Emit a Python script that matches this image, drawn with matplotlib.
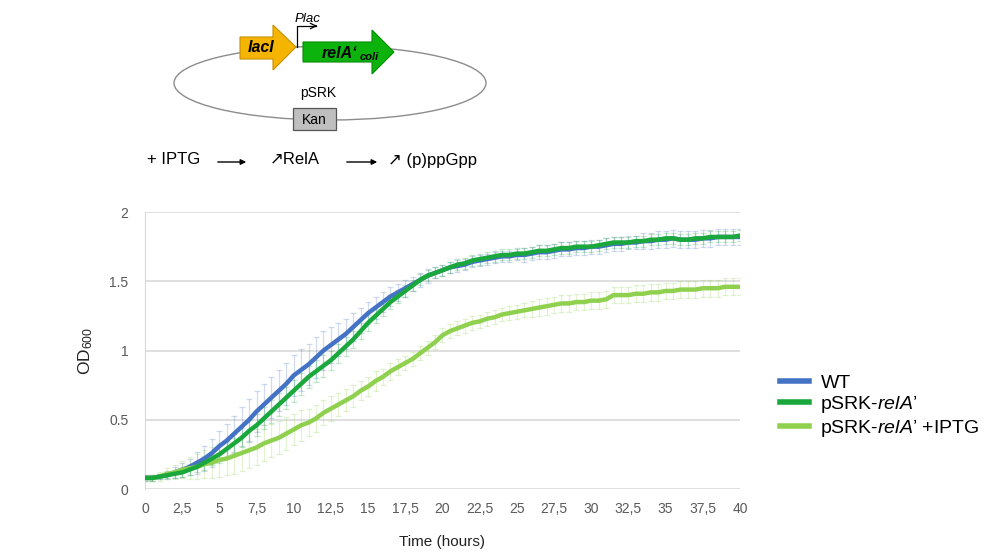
import matplotlib
matplotlib.use('Agg')
import matplotlib.pyplot as plt
import numpy as np
from matplotlib.patches import Polygon, Ellipse, Rectangle
from matplotlib.lines import Line2D

plt.rcParams['font.family'] = ['Liberation Sans', 'DejaVu Sans']
plt.rcParams['mathtext.fontset'] = 'custom'
plt.rcParams['mathtext.rm'] = 'Liberation Sans'
plt.rcParams['mathtext.it'] = 'Liberation Sans:italic'
plt.rcParams['mathtext.bf'] = 'Liberation Sans:bold'

# growth curves, one reading every 0.5 h from 0 to 40 h
time_h = np.arange(0, 40.5, 0.5)

od_wt = [0.08, 0.08, 0.09, 0.10, 0.12, 0.14, 0.16, 0.19, 0.22, 0.26,
         0.31, 0.35, 0.40, 0.45, 0.50, 0.56, 0.61, 0.66, 0.71, 0.76,
         0.82, 0.86, 0.90, 0.95, 1.00, 1.04, 1.08, 1.12, 1.17, 1.22,
         1.27, 1.31, 1.35, 1.39, 1.42, 1.45, 1.48, 1.51, 1.54, 1.56,
         1.58, 1.60, 1.61, 1.62, 1.64, 1.65, 1.66, 1.67, 1.68, 1.68,
         1.69, 1.69, 1.70, 1.71, 1.71, 1.72, 1.73, 1.73, 1.74, 1.74,
         1.75, 1.75, 1.76, 1.77, 1.77, 1.78, 1.78, 1.79, 1.79, 1.80,
         1.80, 1.81, 1.80, 1.80, 1.80, 1.81, 1.81, 1.82, 1.82, 1.82,
         1.82]
err_wt = [0.02, 0.02, 0.02, 0.03, 0.04, 0.05, 0.06, 0.08, 0.09, 0.10,
          0.11, 0.12, 0.13, 0.14, 0.15, 0.15, 0.15, 0.15, 0.15, 0.15,
          0.15, 0.15, 0.15, 0.15, 0.14, 0.13, 0.12, 0.11, 0.10, 0.09,
          0.08, 0.08, 0.07, 0.07, 0.06, 0.06, 0.05, 0.05, 0.05, 0.04,
          0.04, 0.04, 0.04, 0.04, 0.04, 0.04, 0.04, 0.04, 0.04, 0.04,
          0.04, 0.05, 0.05, 0.05, 0.05, 0.05, 0.05, 0.05, 0.05, 0.05,
          0.05, 0.05, 0.05, 0.05, 0.05, 0.05, 0.05, 0.06, 0.06, 0.06,
          0.06, 0.06, 0.06, 0.06, 0.06, 0.06, 0.06, 0.06, 0.06, 0.06,
          0.06]

od_rela = [0.08, 0.08, 0.09, 0.10, 0.11, 0.12, 0.14, 0.16, 0.19, 0.22,
           0.25, 0.29, 0.33, 0.37, 0.42, 0.46, 0.51, 0.56, 0.61, 0.66,
           0.71, 0.76, 0.81, 0.85, 0.89, 0.93, 0.98, 1.03, 1.08, 1.14,
           1.20, 1.25, 1.30, 1.35, 1.39, 1.43, 1.47, 1.51, 1.54, 1.56,
           1.58, 1.60, 1.62, 1.63, 1.65, 1.66, 1.67, 1.68, 1.69, 1.69,
           1.70, 1.70, 1.71, 1.72, 1.72, 1.73, 1.74, 1.74, 1.75, 1.75,
           1.75, 1.76, 1.77, 1.78, 1.78, 1.78, 1.79, 1.79, 1.80, 1.80,
           1.81, 1.81, 1.80, 1.80, 1.81, 1.81, 1.82, 1.82, 1.82, 1.82,
           1.83]
err_rela = [0.02, 0.02, 0.02, 0.02, 0.03, 0.03, 0.04, 0.04, 0.05, 0.05,
            0.06, 0.06, 0.07, 0.07, 0.08, 0.08, 0.08, 0.08, 0.08, 0.08,
            0.08, 0.08, 0.08, 0.08, 0.08, 0.07, 0.07, 0.07, 0.06, 0.06,
            0.06, 0.05, 0.05, 0.05, 0.05, 0.04, 0.04, 0.04, 0.04, 0.04,
            0.04, 0.04, 0.04, 0.04, 0.04, 0.04, 0.04, 0.04, 0.04, 0.04,
            0.04, 0.04, 0.04, 0.04, 0.04, 0.04, 0.04, 0.04, 0.04, 0.04,
            0.04, 0.04, 0.04, 0.04, 0.04, 0.04, 0.04, 0.04, 0.04, 0.04,
            0.04, 0.04, 0.04, 0.04, 0.04, 0.04, 0.04, 0.04, 0.04, 0.04,
            0.04]

od_iptg = [0.08, 0.08, 0.09, 0.11, 0.12, 0.14, 0.15, 0.16, 0.18, 0.19,
           0.21, 0.22, 0.24, 0.26, 0.28, 0.30, 0.33, 0.35, 0.37, 0.40,
           0.43, 0.46, 0.48, 0.51, 0.55, 0.58, 0.61, 0.64, 0.67, 0.71,
           0.74, 0.78, 0.81, 0.85, 0.88, 0.91, 0.94, 0.98, 1.02, 1.06,
           1.11, 1.14, 1.16, 1.18, 1.20, 1.21, 1.23, 1.24, 1.26, 1.27,
           1.28, 1.29, 1.30, 1.31, 1.32, 1.33, 1.34, 1.34, 1.35, 1.35,
           1.36, 1.36, 1.37, 1.40, 1.40, 1.40, 1.41, 1.41, 1.42, 1.42,
           1.43, 1.43, 1.44, 1.44, 1.44, 1.45, 1.45, 1.45, 1.46, 1.46,
           1.46]
err_iptg = [0.02, 0.02, 0.03, 0.04, 0.05, 0.06, 0.08, 0.09, 0.10, 0.11,
            0.12, 0.12, 0.13, 0.13, 0.13, 0.13, 0.13, 0.12, 0.12, 0.12,
            0.11, 0.11, 0.10, 0.10, 0.09, 0.09, 0.08, 0.08, 0.08, 0.07,
            0.07, 0.07, 0.06, 0.06, 0.06, 0.05, 0.05, 0.05, 0.05, 0.05,
            0.05, 0.05, 0.05, 0.05, 0.05, 0.05, 0.05, 0.05, 0.05, 0.05,
            0.05, 0.05, 0.06, 0.06, 0.06, 0.06, 0.06, 0.06, 0.06, 0.06,
            0.06, 0.06, 0.06, 0.06, 0.06, 0.06, 0.06, 0.06, 0.06, 0.06,
            0.06, 0.06, 0.06, 0.06, 0.06, 0.06, 0.06, 0.06, 0.06, 0.06,
            0.06]

labels = ['WT', "pSRK-$\\mathit{relA}$\u2019", "pSRK-$\\mathit{relA}$\u2019 +IPTG"]
colors = ['#4472C4', '#1AA83C', '#8FD14F']

x_ticks = np.arange(0, 42.5, 2.5)
x_ticklabels = ['0', '2,5', '5', '7,5', '10', '12,5', '15', '17,5', '20', '22,5',
                '25', '27,5', '30', '32,5', '35', '37,5', '40']
y_ticks = [0, 0.5, 1, 1.5, 2]
y_ticklabels = ['0', '0.5', '1', '1.5', '2']

fig = plt.figure(figsize=(9.91, 5.53), dpi=100)
ax = fig.add_axes([0.1463, 0.1157, 0.6004, 0.5009])

# WT, then +IPTG, then relA' on top (as in the reference)
series = [(od_wt, err_wt, colors[0], 3),
          (od_iptg, err_iptg, colors[2], 4),
          (od_rela, err_rela, colors[1], 5)]
for od, err, c, z in series:
    ax.errorbar(time_h, od, yerr=err, fmt='none', ecolor=c, alpha=0.25,
                elinewidth=0.9, capsize=2.5, capthick=0.9, zorder=2)
for od, err, c, z in series:
    ax.plot(time_h, od, color=c, lw=3.2, zorder=z, solid_capstyle='round')

ax.set_xlim(0, 40)
ax.set_ylim(0, 2)
ax.set_xticks(x_ticks)
ax.set_xticklabels(x_ticklabels)
ax.set_yticks(y_ticks)
ax.set_yticklabels(y_ticklabels)
ax.tick_params(length=0, labelsize=10, labelcolor='#595959', pad=9)
ax.tick_params(axis='y', pad=12)
ax.grid(axis='y', color='#D9D9D9', lw=1.2)
ax.set_axisbelow(True)
for s in ['top', 'right', 'bottom']:
    ax.spines[s].set_visible(False)
ax.spines['left'].set_color('#D9D9D9')
ax.set_xlabel('Time (hours)', fontsize=11, color='#222222', labelpad=14)
ax.set_ylabel('OD$_{600}$', fontsize=12.5, color='#222222', labelpad=10)

handles = [Line2D([], [], color=c, lw=4) for c in colors]
fig.legend(handles, labels, loc='center left', bbox_to_anchor=(0.769, 0.265),
           frameon=False, fontsize=14, handlelength=1.5, handletextpad=0.6,
           labelspacing=0.12)

# plasmid sketch drawn in pixel space on top of the figure
ov = fig.add_axes([0, 0, 1, 1])
ov.set_xlim(0, 991)
ov.set_ylim(553, 0)
ov.axis('off')

ov.add_patch(Ellipse((330, 83), 312, 74, fill=False, ec='#8C8C8C', lw=1))
ov.add_patch(Polygon([(240, 37), (273, 37), (273, 25), (296, 47), (273, 70),
                      (273, 59), (240, 59)], closed=True, fc='#F4B400',
                     ec='#C89000', lw=0.8))
ov.text(261, 48, 'lacI', fontsize=11.5, fontweight='bold', style='italic',
        ha='center', va='center')
ov.add_patch(Polygon([(303, 42), (372, 42), (372, 30), (394, 52), (372, 74),
                      (372, 62), (303, 62)], closed=True, fc='#0DB30D',
                     ec='#078A07', lw=0.8))
ov.text(322, 53, 'relA\u2018', fontsize=11.5, fontweight='bold', style='italic',
        ha='left', va='center')
ov.text(360, 57, 'coli', fontsize=8, fontweight='bold', style='italic',
        ha='left', va='center')
ov.plot([297, 297, 316], [47, 26, 26], color='black', lw=0.9)
ov.annotate('', xy=(320, 26), xytext=(313, 26),
            arrowprops=dict(arrowstyle='->', lw=0.9, color='black'))
ov.text(295, 19, 'Plac', fontsize=9.5, style='italic', ha='left', va='center')
ov.text(318, 93, 'pSRK', fontsize=10, ha='center', va='center')
ov.add_patch(Rectangle((293, 108), 43, 22, fc='#BFBFBF', ec='#555555', lw=0.9))
ov.text(314.5, 120, 'Kan', fontsize=10, ha='center', va='center')

ov.text(147, 160, '+ IPTG', fontsize=12, ha='left', va='center')
ov.annotate('', xy=(249, 162), xytext=(215, 162),
            arrowprops=dict(arrowstyle='-|>', lw=1, color='black',
                            mutation_scale=8))
ov.text(270, 160, '\u2197RelA', fontsize=12, ha='left', va='center')
ov.annotate('', xy=(380, 162), xytext=(344, 162),
            arrowprops=dict(arrowstyle='-|>', lw=1, color='black',
                            mutation_scale=8))
ov.text(388, 160, '\u2197 (p)ppGpp', fontsize=12, ha='left', va='center')

fig.savefig('out.png', dpi=100)
